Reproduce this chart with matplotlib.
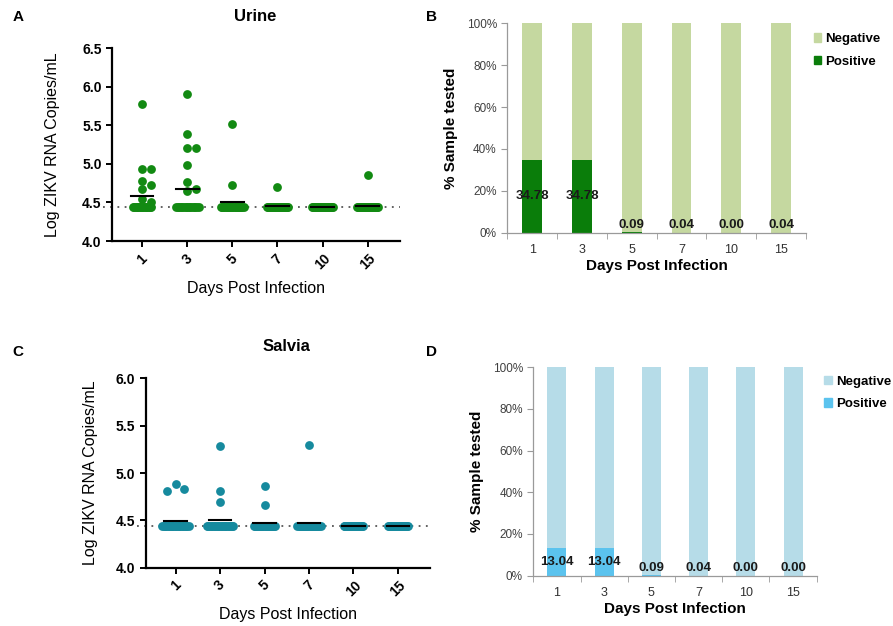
import numpy as np
import matplotlib
matplotlib.use("Agg")
import matplotlib.pyplot as plt
from matplotlib.patches import Patch

plt.rcParams['font.family'] = ['Liberation Sans', 'DejaVu Sans']

days = ['1', '3', '5', '7', '10', '15']
lod = 4.44
n_samples = 23

# log ZIKV RNA copies/mL above the detection limit, per day
urine_pos = [
    [5.77, 4.93, 4.93, 4.78, 4.73, 4.67, 4.55, 4.50],
    [5.91, 5.39, 5.21, 5.20, 4.98, 4.76, 4.68, 4.65],
    [5.51, 4.73],
    [4.70],
    [],
    [4.85],
]
saliva_pos = [
    [4.88, 4.83, 4.81],
    [5.29, 4.81, 4.69],
    [4.86, 4.66],
    [5.30],
    [],
    [],
]

# percent positive samples
urine_pct = [34.78, 34.78, 0.09, 0.04, 0.00, 0.04]
saliva_pct = [13.04, 13.04, 0.09, 0.04, 0.00, 0.00]

urine_color = '#128a12'
saliva_color = '#168a9e'

fig = plt.figure(figsize=(8.93, 6.26), dpi=100)

DOT = 40  # marker area
DIAM = 8.6  # marker diameter in px


def swarm(ax, x0, values, diam):
    # simple beeswarm in pixel space
    trans = ax.transData
    placed = []
    xs = []
    step = diam * 0.5
    for v in values:
        xp, yp = trans.transform((x0, v))
        k = 0
        while True:
            cands = [xp] if k == 0 else [xp + k * step, xp - k * step]
            ok = None
            for c in cands:
                if all((c - px) ** 2 + (yp - py) ** 2 >= (diam * 0.95) ** 2 for px, py in placed):
                    ok = c
                    break
            if ok is not None:
                placed.append((ok, yp))
                xs.append(trans.inverted().transform((ok, yp))[0])
                break
            k += 1
    return xs


def scatter_panel(rect, pos_lists, color, ylim, yticks, title, title_x, title_y, band, ylpad):
    ax = fig.add_axes(rect)
    ax.set_xlim(-0.67, 5.72)
    ax.set_ylim(*ylim)
    for s in ['top', 'right']:
        ax.spines[s].set_visible(False)
    for s in ['left', 'bottom']:
        ax.spines[s].set_linewidth(1.6)
    ax.axhline(lod, xmin=-0.03, xmax=1, color='#555555', ls=(0, (1, 3)),
               lw=1.3, clip_on=False, zorder=1)
    for i, vals in enumerate(pos_lists):
        n_lod = n_samples - len(vals)
        w = band[i]
        lx = i + np.linspace(-w, w, n_lod)
        ax.scatter(lx, [lod] * n_lod, s=DOT, color=color, lw=0, zorder=3)
        if vals:
            xs = swarm(ax, i, vals, DIAM)
            ax.scatter(xs, vals, s=DOT, color=color, lw=0, zorder=3)
        mean = (sum(vals) + n_lod * lod) / n_samples
        ax.plot([i - 0.25, i + 0.25], [mean, mean], color='black', lw=1.5, zorder=4)
    ax.set_yticks(yticks)
    ax.set_yticklabels([f'{t:.1f}' for t in yticks], fontsize=10, fontweight='bold')
    ax.set_xticks(range(len(days)))
    ax.set_xticklabels(days, rotation=45, fontsize=10, fontweight='bold')
    ax.tick_params(width=1.4, length=4)
    ax.set_ylabel('Log ZIKV RNA Copies/mL', fontsize=11.5, labelpad=ylpad)
    ax.set_xlabel('Days Post Infection', fontsize=11.5, labelpad=6)
    fig.text(title_x, title_y, title, fontsize=12, fontweight='bold', ha='center', va='center')
    return ax


def bar_panel(rect, pct, neg_color, pos_color, leg_xy):
    ax = fig.add_axes(rect)
    x = np.arange(len(days))
    pct = np.array(pct)
    ax.bar(x, pct, width=0.4, color=pos_color, zorder=2)
    ax.bar(x, 100 - pct, bottom=pct, width=0.4, color=neg_color, zorder=2)
    ax.set_xlim(-0.5, 5.5)
    ax.set_ylim(0, 100)
    for s in ['top', 'right']:
        ax.spines[s].set_visible(False)
    for s in ['left', 'bottom']:
        ax.spines[s].set_color('#9a9a9a')
        ax.spines[s].set_linewidth(0.9)
    ax.set_yticks(range(0, 101, 20))
    ax.set_yticklabels([f'{t}%' for t in range(0, 101, 20)], fontsize=8.5, color='#404040')
    ax.set_xticks(x)
    ax.set_xticklabels(days, fontsize=9, color='#303030')
    ax.set_xticks(np.arange(-0.5, 5.6, 1), minor=True)
    ax.tick_params(axis='x', which='major', length=0, pad=8)
    ax.tick_params(axis='x', which='minor', length=4, color='#9a9a9a')
    ax.tick_params(axis='y', length=4, color='#9a9a9a')
    for xi, v in zip(x, pct):
        if v > 5:
            ax.text(xi, v / 2, f'{v:.2f}', ha='center', va='center', fontsize=9.5,
                    fontweight='bold', color='#1a1a1a', zorder=3)
        else:
            ax.text(xi, v + 0.8, f'{v:.2f}', ha='center', va='bottom', fontsize=9.5,
                    fontweight='bold', color='#1a1a1a', zorder=3)
    ax.set_xlabel('Days Post Infection', fontsize=11, fontweight='bold', labelpad=2)
    ax.set_ylabel('% Sample tested', fontsize=11, fontweight='bold', labelpad=6)
    handles = [Patch(color=neg_color, label='Negative'), Patch(color=pos_color, label='Positive')]
    ax.legend(handles=handles, loc='upper left', bbox_to_anchor=leg_xy,
              bbox_transform=fig.transFigure, frameon=False,
              prop={'weight': 'bold', 'size': 9.5}, handlelength=0.6, handleheight=0.6,
              handletextpad=0.3, labelspacing=0.8, borderpad=0, borderaxespad=0)
    return ax


scatter_panel([0.1254, 0.615, 0.3226, 0.3083], urine_pos, urine_color,
              (4.0, 6.5), [4.0, 4.5, 5.0, 5.5, 6.0, 6.5], 'Urine', 0.286, 0.973,
              [0.2, 0.25, 0.25, 0.24, 0.23, 0.24], 16)
scatter_panel([0.1632, 0.0931, 0.3183, 0.3026], saliva_pos, saliva_color,
              (4.0, 6.0), [4.0, 4.5, 5.0, 5.5, 6.0], 'Salvia', 0.321, 0.447,
              [0.3, 0.3, 0.24, 0.26, 0.22, 0.22], 13)

bar_panel([0.568, 0.6283, 0.3346, 0.3345], urine_pct, '#c5d8a0', '#0a7d0a', (0.911, 0.947))
bar_panel([0.5972, 0.0804, 0.3174, 0.3329], saliva_pct, '#b6dce8', '#5bc3ee', (0.923, 0.400))

for lab, x, y in [('A', 0.02, 0.973), ('B', 0.483, 0.973), ('C', 0.02, 0.437), ('D', 0.483, 0.437)]:
    fig.text(x, y, lab, fontsize=11, fontweight='bold', ha='center', va='center')

fig.savefig('out.png', dpi=100)
